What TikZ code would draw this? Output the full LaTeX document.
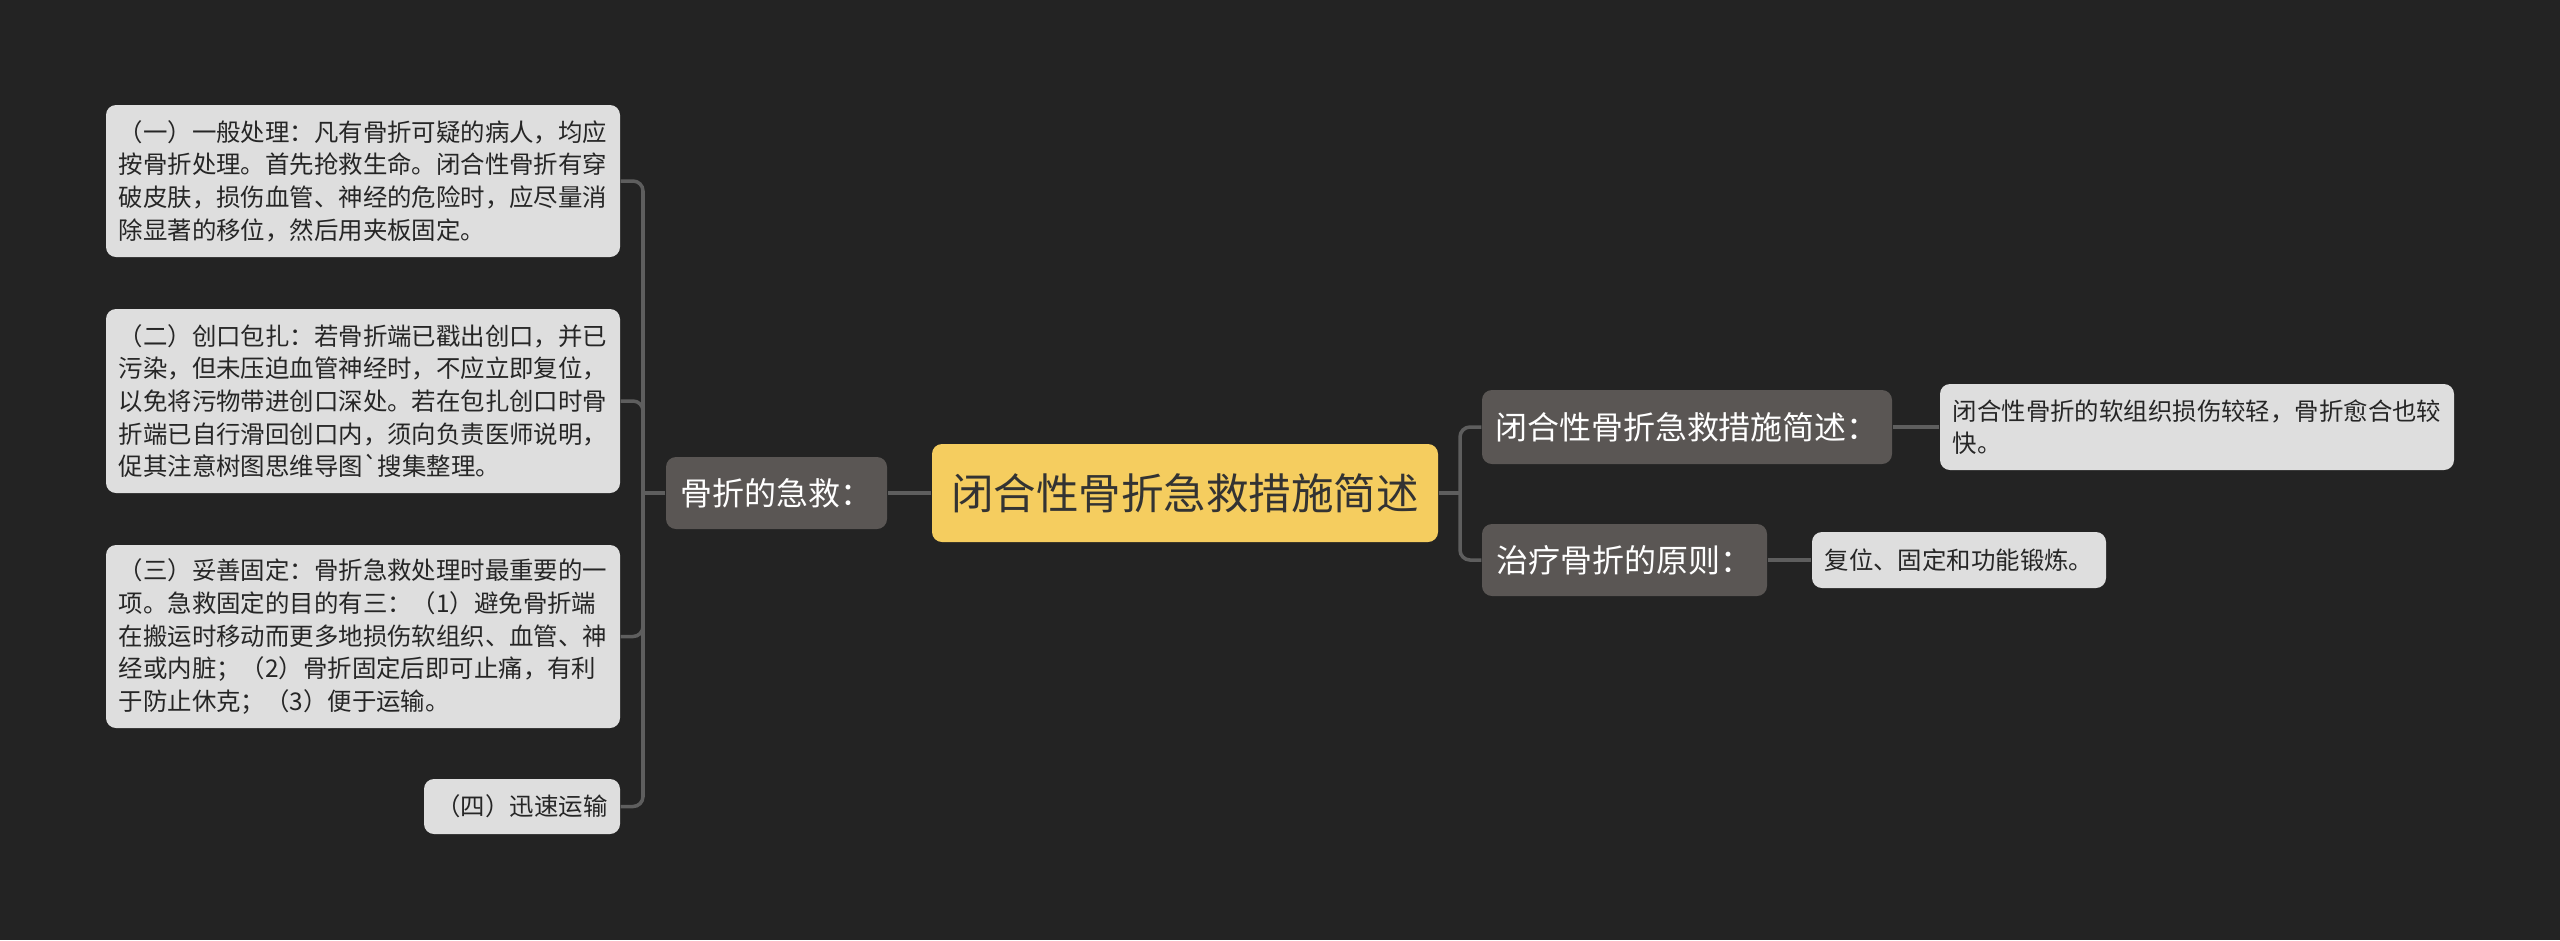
\documentclass[tikz,border=0pt]{standalone}
\usepackage{fontspec}
\setmainfont{Noto Sans CJK SC}
\definecolor{bg}{HTML}{232323}
\definecolor{darkbox}{HTML}{5A5654}
\definecolor{rootfill}{HTML}{F5CD5F}
\definecolor{leaffill}{HTML}{DEDEDE}
\definecolor{linkgray}{HTML}{5E5E5E}
\tikzset{
  leaf/.style={fill=leaffill,rounded corners=0.1cm,text=black!85,inner sep=0pt,
    align=left,font=\fontsize{6.95pt}{9.3pt}\selectfont},
  branch/.style={fill=darkbox,rounded corners=0.1cm,text=white,inner sep=0pt,
    font=\fontsize{9.1pt}{11pt}\selectfont},
  rootbox/.style={fill=rootfill,rounded corners=0.1cm,text=black!80,inner sep=0pt,
    font=\fontsize{12.1pt}{14pt}\selectfont},
  link/.style={draw=linkgray,line width=1pt,rounded corners=0.1cm}
}
\begin{document}
\begin{tikzpicture}
\fill[bg] (0,0) rectangle (25.6,-9.4);
\useasboundingbox (0,0) rectangle (25.6,-9.4);
\node[rootbox,minimum width=5.06cm,minimum height=0.98cm] (root) at (11.85,-4.93) {闭合性骨折急救措施简述};
\node[branch,minimum width=2.21cm,minimum height=0.72cm] (aid) at (7.765,-4.93) {骨折的急救：};
\node[branch,minimum width=4.10cm,minimum height=0.74cm] (brief) at (16.87,-4.27) {闭合性骨折急救措施简述：};
\node[branch,minimum width=2.85cm,minimum height=0.72cm] (rule) at (16.245,-5.60) {治疗骨折的原则：};
\node[leaf,minimum width=5.14cm,minimum height=1.52cm] (general) at (3.63,-1.81) {（一）一般处理：凡有骨折可疑的病人，均应\\按骨折处理。首先抢救生命。闭合性骨折有穿\\破皮肤，损伤血管、神经的危险时，应尽量消\\除显著的移位，然后用夹板固定。};
\node[leaf,minimum width=5.14cm,minimum height=1.84cm] (wound) at (3.63,-4.01) {（二）创口包扎：若骨折端已戳出创口，并已\\污染，但未压迫血管神经时，不应立即复位，\\以免将污物带进创口深处。若在包扎创口时骨\\折端已自行滑回创口内，须向负责医师说明，\\促其注意树图思维导图\textasciigrave 搜集整理。};
\node[leaf,minimum width=5.14cm,minimum height=1.83cm] (fix) at (3.63,-6.365) {（三）妥善固定：骨折急救处理时最重要的一\\项。急救固定的目的有三：（1）避免骨折端\\在搬运时移动而更多地损伤软组织、血管、神\\经或内脏；（2）骨折固定后即可止痛，有利\\于防止休克；（3）便于运输。};
\node[leaf,minimum width=1.96cm,minimum height=0.55cm] (carry) at (5.22,-8.065) {（四）迅速运输};
\node[leaf,minimum width=5.14cm,minimum height=0.86cm] (soft) at (21.97,-4.27) {闭合性骨折的软组织损伤较轻，骨折愈合也较\\快。};
\node[leaf,minimum width=2.94cm,minimum height=0.56cm] (reset) at (19.59,-5.60) {复位、固定和功能锻炼。};
\coordinate (jl) at (6.43,-4.93);
\coordinate (jr) at (14.60,-4.93);
\draw[link] (aid.west) -- (jl);
\draw[link] (jl) |- (general.east);
\draw[link] (jl) |- (wound.east);
\draw[link] (jl) |- (fix.east);
\draw[link] (jl) |- (carry.east);
\draw[link] (root.west) -- (aid.east);
\draw[link] (root.east) -- (jr);
\draw[link] (jr) |- (brief.west);
\draw[link] (jr) |- (rule.west);
\draw[link] (brief.east) -- (soft.west);
\draw[link] (rule.east) -- (reset.west);
\end{tikzpicture}
\end{document}
